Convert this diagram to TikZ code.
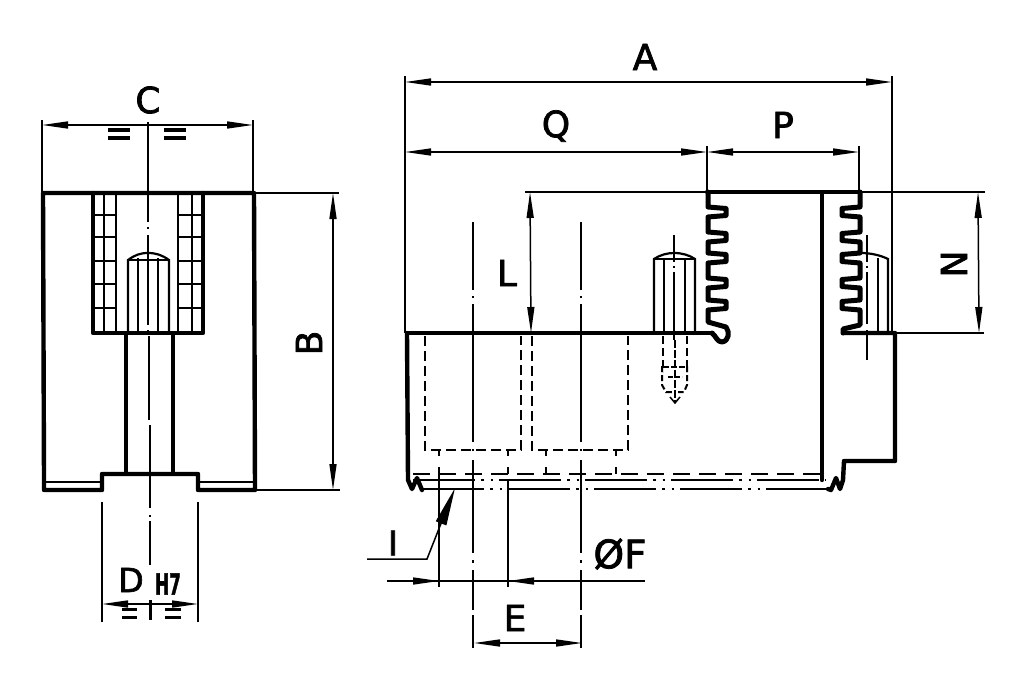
\documentclass[tikz,border=0pt]{standalone}
\usepackage{fontspec}
\setmainfont[FakeBold=2]{DejaVu Sans}
\usetikzlibrary{arrows.meta}
\tikzset{
  thin line/.style={line width=1.5pt,black},
  thick line/.style={line width=4.4pt,black,line join=round,line cap=round},
  rack line/.style={line width=5pt,black,line join=round,line cap=round},
  mid line/.style={line width=2.2pt,black},
  hidden/.style={line width=2pt,black,dash pattern=on 10pt off 5pt},
  ddot/.style={line width=2.1pt,black,dash pattern=on 62pt off 6pt on 2.5pt off 7pt on 2.5pt off 6pt},
  dim/.style={thin line,{Stealth[length=26pt,width=7pt,inset=0pt]}-{Stealth[length=26pt,width=7pt,inset=0pt]}},
  lab/.style={inner sep=0pt,font=\fontsize{36}{36}\selectfont},
}
\begin{document}
\begin{tikzpicture}[x=1pt,y=-1pt]
\useasboundingbox[fill=white] (0,0) rectangle (1024,690);

% ---------- left view ----------
\draw[thick line] (44,480) -- (43,193) -- (254,193) -- (255,490) -- (198,490) -- (198,474) -- (102,474) -- (102,490) -- (44,490) -- cycle;
\draw[mid line] (46,482) -- (102,482) (198,482) -- (254,482);
\draw[thick line] (93,193) -- (93,333) -- (203,333) -- (203,193);
\draw[mid line] (104,193) -- (104,333) (116,193) -- (116,333) (178,193) -- (178,333) (192,193) -- (192,333);
\foreach \y in {215,237,261,284,308}{
  \draw[mid line] (94,\y) -- (116,\y) (178,\y) -- (202,\y);
}
\draw[mid line] (128,333) -- (128,260) .. controls (135,255) and (140,253) .. (148,253) .. controls (156,253) and (162,255) .. (169,260) -- (169,333);
\draw[thin line] (128,260) -- (169,260);
\draw[mid line] (138,258) -- (138,333) (158,258) -- (158,333);
\draw[thick line] (126,334) -- (126,473) (173,334) -- (173,473);
% centre line
\draw[thin line] (148,122) -- (148,222) (148,227) -- (148,229) (148,235) -- (148,325) (148,330) -- (148,332)
  (149,336) -- (149,420) (150,425) -- (150,508) (150,515) -- (150,517) (150,521) -- (150,565);
\draw[line width=3pt] (150,600) -- (150,620);
% C
\coordinate (cl) at (42,125); \coordinate (cr) at (253,125);
\draw[thin line] (42,120) -- (42,193) (253,120) -- (253,193);
\draw[dim] (cl) -- (cr);
\draw[line width=3.4pt] (108,130) -- (130,130) (108,138) -- (130,138) (164,130) -- (186,130) (164,138) -- (186,138);
\node[lab] (labC) at (148,100) {C};
% B
\coordinate (bt) at (333,193); \coordinate (bb) at (333,490);
\draw[thin line] (256,193) -- (339,193) (257,490) -- (340,490);
\draw[dim] (bt) -- (bb);
\node[lab,rotate=90] (labB) at (309,343) {B};
% D H7
\coordinate (dl) at (102,604); \coordinate (dr) at (198,604);
\draw[thin line] (102,502) -- (102,622) (198,502) -- (198,622);
\draw[dim] (dl) -- (dr);
\draw[line width=3pt] (122,609) -- (137,609) (122,617) -- (137,617) (165,609) -- (181,609) (165,617) -- (181,617);
\node[lab,font=\fontsize{33}{33}\selectfont] (labD) at (131,580) {D};
\node[inner sep=0pt,font=\fontsize{29}{29}\bfseries\selectfont,xscale=.58] (labH) at (168,584) {H7};

% ---------- right view ----------
% body
\draw[thick line] (407,333) -- (712,333);
\draw[thick line] (407,333) -- (408,480) -- (412,489) -- (417,478) -- (422,490);
\draw[thick line] (707,192) -- (860,192);
% left rack with hook
\draw[rack line] (708,192) foreach \y in {212,237,258,283,305} { -- (708,\y-5) -- (726,\y-3.5) -- (726,\y+3.5) -- (708,\y+5) }
  -- (708,322) -- (726,327) .. controls (730,332) and (729,341) .. (722,342) .. controls (717,342) and (716,336) .. (712,333);
% right rack
\draw[rack line] (860,192) foreach \y in {212,237,258,283,305} { -- (860,\y-5) -- (842,\y-3.5) -- (842,\y+3.5) -- (860,\y+5) }
  -- (860,325) -- (843,329) -- (843,333);
\draw[thick line] (843,333) -- (895,333) -- (895,461) -- (844,461) -- (843,480) -- (840,489) -- (836,478) -- (831,490) -- (828,489);
\draw[thick line] (822,193) -- (822,480);
% studs
\draw[mid line] (654,333) -- (654,259) .. controls (660,255) and (667,253) .. (674,253) .. controls (682,253) and (689,255) .. (695,259) -- (695,333);
\draw[mid line] (664,258) -- (664,333) (685,258) -- (685,333);
\draw[thin line] (654,259) -- (695,259);
\draw[thin line] (674,235) -- (674,262) (674,266) -- (674,268) (674,272) -- (674,340);
\draw[mid line] (861,253) .. controls (870,253) and (880,255) .. (888,259) -- (888,333);
\draw[mid line] (878,258) -- (878,333);
\draw[thin line] (867,235) -- (867,262) (867,266) -- (867,268) (867,272) -- (867,324) (867,330) -- (867,360);
% hidden hole below stud
\draw[hidden,dash pattern=on 8pt off 4pt] (663,336) -- (663,372) (687,336) -- (687,372);
\draw[hidden,dash pattern=on 6pt off 3pt] (662,366) -- (662,385) -- (666,392) -- (672,392);
\draw[hidden,dash pattern=on 6pt off 3pt] (687,366) -- (687,385) -- (684,392) -- (678,392);
\draw[thin line,dash pattern=on 6pt off 2pt] (663,367) -- (687,367);
\draw[thin line,dash pattern=on 5pt off 2pt] (668,377) -- (682,377);
\draw[thin line,dash pattern=on 8pt off 2pt] (675,340) -- (675,403);
\draw[thin line] (670,397) -- (675,403) -- (680,397);
% hidden pockets
\draw[hidden] (425,336) -- (425,450) -- (521,450) -- (521,336);
\draw[hidden] (532,336) -- (532,450) -- (628,450) -- (628,336);
\foreach \x in {439,508,546,616}{
  \draw[thin line] (\x,450) -- (\x,456) (\x,467) -- (\x,474);
}
% long lower lines
\draw[hidden,dash pattern=on 17pt off 9pt] (413,474) -- (826,474);
\draw[ddot] (413,480) -- (826,480);
\draw[ddot] (422,489) -- (830,489);
% centre lines of bores
\foreach \x in {473,581}{
  \draw[thin line] (\x,222) -- (\x,290) (\x,296) -- (\x,298) (\x,304) -- (\x,442) (\x,449) -- (\x,451) (\x,460) -- (\x,553) (\x,560) -- (\x,563) (\x,570) -- (\x,610) (\x,615) -- (\x,648);
}
% A
\coordinate (al) at (405,82); \coordinate (ar) at (892,82);
\draw[thin line] (405,76) -- (405,333) (892,76) -- (892,333);
\draw[dim] (al) -- (ar);
\node[lab] (labA) at (645,57) {A};
% Q P
\coordinate (ql) at (405,152); \coordinate (qm) at (707,152); \coordinate (pr) at (859,152);
\draw[thin line] (707,146) -- (707,192) (859,146) -- (859,192);
\draw[dim] (ql) -- (qm);
\draw[dim] (qm) -- (pr);
\node[lab] (labQ) at (556,126) {Q};
\node[lab] (labP) at (783,125) {P};
% L
\coordinate (lt) at (530,192); \coordinate (lb) at (531,333);
\draw[thin line] (525,192) -- (985,192);
\draw[dim] (lt) -- (lb);
\node[lab] (labL) at (507,273) {L};
% N
\coordinate (nt) at (978,192); \coordinate (nb) at (979,333);
\draw[thin line] (897,333) -- (984,333);
\draw[dim] (nt) -- (nb);
\node[lab,rotate=90] (labN) at (954,264) {N};
% E
\coordinate (el) at (474,643); \coordinate (er) at (582,643);
\draw[dim] (el) -- (er);
\node[lab] (labE) at (515,618) {E};
% I
\coordinate (il) at (439,581); \coordinate (ir) at (508,581);
\coordinate (it) at (455,488); \coordinate (ik) at (427,559); \coordinate (ie) at (367,559);
\draw[thin line] (439,474) -- (439,587) (508,480) -- (508,587);
\draw[thin line] (387,581) -- (645,581);
\draw[thin line,-{Stealth[length=26pt,width=7pt,inset=0pt]}] (413,581) -- (il);
\draw[thin line,-{Stealth[length=26pt,width=7pt,inset=0pt]}] (537,581) -- (ir);
\draw[thin line,-{Stealth[length=38pt,width=11pt,inset=0pt]}] (ie) -- (ik) -- (it);
\node[lab,font=\fontsize{34}{34}\selectfont] (labI) at (393,543) {I};
\node[lab,font=\fontsize{39}{39}\selectfont] (labF) at (620,554) {ØF};
\end{tikzpicture}
\end{document}
